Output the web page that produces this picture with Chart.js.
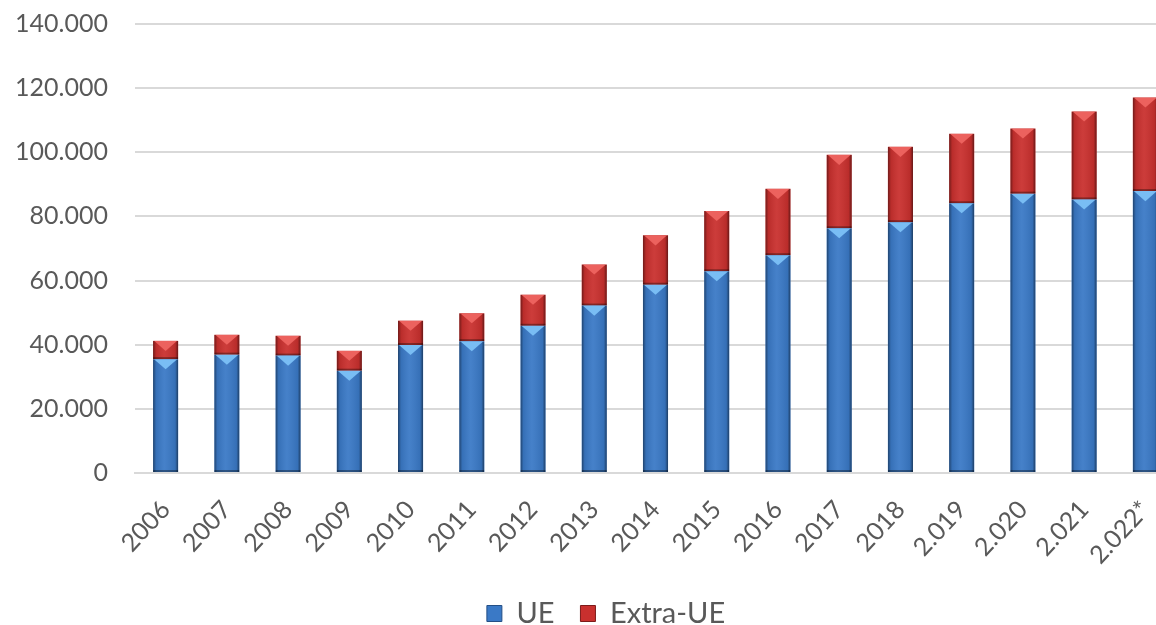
<!DOCTYPE html>
<html lang="es">
<head>
    <meta charset="UTF-8">
    <title>UE / Extra-UE</title>
    <script src="https://cdn.jsdelivr.net/npm/chart.js"></script>
    <style>
        html, body {
            margin: 0;
            padding: 0;
            background: #ffffff;
            overflow: hidden;
        }
        #wrap {
            width: 1156px;
            height: 625px;
            overflow: hidden;
        }
    </style>
</head>
<body>
    <div id="wrap">
        <canvas id="chart" width="1212" height="625"></canvas>
    </div>

    <script>
        // data
        const years = ['2006', '2007', '2008', '2009', '2010', '2011', '2012', '2013', '2014',
                       '2015', '2016', '2017', '2018', '2.019', '2.020', '2.021', '2.022*'];
        const ue      = [35500, 36900, 36600, 31900, 39900, 41100, 45900, 52200, 58700,
                         62900, 67900, 76300, 78200, 84100, 87100, 85300, 87900];
        const extraUe = [5700, 6200, 6200, 6200, 7600, 8700, 9700, 12800, 15400,
                         18800, 20700, 22900, 23500, 21700, 20300, 27400, 29200];
        const yTicks  = [0, 20000, 40000, 60000, 80000, 100000, 120000, 140000];

        const FONT = 'Lato, "Open Sans", sans-serif';
        const TEXT = '#595959';

        // bevel look of the excel bars
        const bevel = {
            id: 'bevel',
            afterLayout(chart) {
                // legend sits a bit lower and is centred on the full canvas in the original
                chart.legend.top += 5;
                chart.legend.bottom += 5;
                chart.legend.left += 18;
                chart.legend.right += 18;
            },
            afterDatasetsDraw(chart) {
                const c = chart.ctx;
                chart.data.datasets.forEach((ds, i) => {
                    const meta = chart.getDatasetMeta(i);
                    meta.data.forEach(bar => {
                        const p = bar.getProps(['x', 'y', 'base', 'width'], true);
                        const l = p.x - p.width / 2, r = p.x + p.width / 2;
                        const top = Math.min(p.y, p.base), bot = Math.max(p.y, p.base);
                        c.save();
                        c.beginPath();
                        c.rect(l, top, p.width, bot - top);
                        c.clip();
                        // side shading
                        const g = c.createLinearGradient(l, 0, r, 0);
                        g.addColorStop(0, 'rgba(0,0,0,0.45)');
                        g.addColorStop(0.12, 'rgba(0,0,0,0.08)');
                        g.addColorStop(0.45, 'rgba(255,255,255,0.06)');
                        g.addColorStop(0.88, 'rgba(0,0,0,0.08)');
                        g.addColorStop(1, 'rgba(0,0,0,0.5)');
                        c.fillStyle = g;
                        c.fillRect(l, top, p.width, bot - top);
                        // top facet
                        const h = Math.min(p.width * 0.4, (bot - top) * 0.6);
                        c.beginPath();
                        c.moveTo(l + 1, top);
                        c.lineTo(r - 1, top);
                        c.lineTo(p.x, top + h);
                        c.closePath();
                        c.fillStyle = ds.facetColor;
                        c.fill();
                        // dark seam at bottom of segment
                        c.fillStyle = 'rgba(0,0,0,0.35)';
                        c.fillRect(l, bot - 2, p.width, 2);
                        c.restore();
                    });
                });
            }
        };

        new Chart(document.getElementById('chart'), {
            type: 'bar',
            data: {
                labels: years,
                datasets: [{
                    label: 'UE',
                    data: ue,
                    backgroundColor: '#3A79C6',
                    borderColor: '#244f86',
                    borderWidth: 0,
                    facetColor: '#79BDF4'
                }, {
                    label: 'Extra-UE',
                    data: extraUe,
                    backgroundColor: '#C9302E',
                    borderColor: '#7d1b1a',
                    borderWidth: 0,
                    facetColor: '#EC625E'
                }]
            },
            options: {
                responsive: false,
                animation: false,
                datasets: {
                    bar: {
                        categoryPercentage: 1,
                        barPercentage: 0.41
                    }
                },
                layout: {
                    padding: { top: 24, right: 36, bottom: -8, left: 0 }
                },
                plugins: {
                    tooltip: { enabled: false },
                    legend: {
                        position: 'bottom',
                        labels: {
                            color: TEXT,
                            font: { family: FONT, size: 29 },
                            boxWidth: 15,
                            boxHeight: 16,
                            padding: 26,
                            generateLabels(chart) {
                                return chart.data.datasets.map((ds, i) => ({
                                    text: ds.label,
                                    fillStyle: ds.backgroundColor,
                                    strokeStyle: ds.borderColor,
                                    lineWidth: 1,
                                    fontColor: TEXT,
                                    datasetIndex: i,
                                    hidden: false
                                }));
                            }
                        }
                    }
                },
                scales: {
                    x: {
                        stacked: true,
                        grid: { display: false, drawTicks: false },
                        border: { display: true, color: '#d9d9d9', width: 2 },
                        ticks: {
                            color: TEXT,
                            font: { family: FONT, size: 25 },
                            minRotation: 47,
                            maxRotation: 47,
                            padding: 22
                        },
                        afterFit(scale) { scale.height = 95; }
                    },
                    y: {
                        stacked: true,
                        min: 0,
                        max: 140000,
                        grid: { color: '#d9d9d9', lineWidth: 2, drawTicks: false },
                        border: { display: false },
                        afterBuildTicks(scale) {
                            scale.ticks = yTicks.map(v => ({ value: v }));
                        },
                        ticks: {
                            color: TEXT,
                            font: { family: FONT, size: 25 },
                            padding: 27,
                            callback: v => v.toLocaleString('de-DE')
                        },
                        afterFit(scale) {
                            scale.width = 135;
                            scale.paddingTop = 0;
                            scale.paddingBottom = 0;
                        }
                    }
                }
            },
            plugins: [bevel]
        });
    </script>
</body>
</html>
